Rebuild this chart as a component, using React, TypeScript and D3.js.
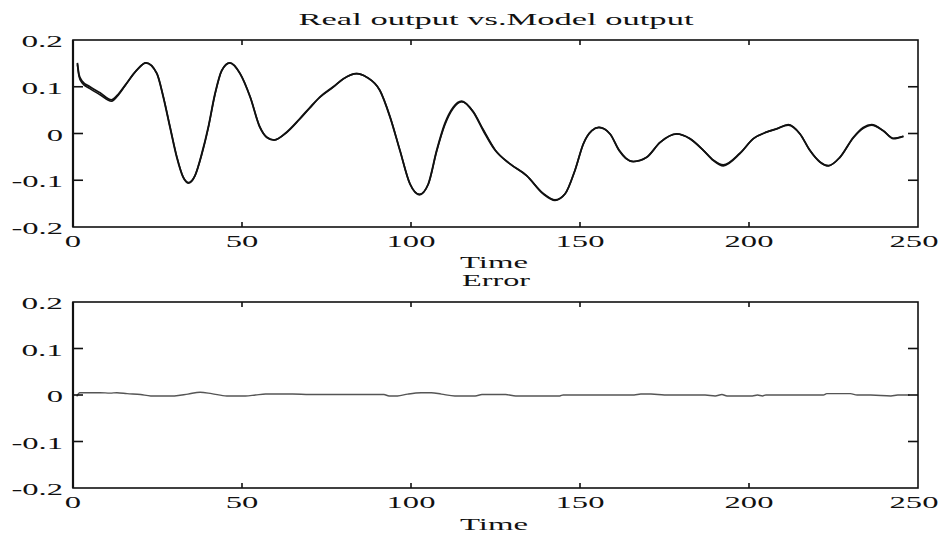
import React from "react";
import * as d3 from "d3";

// ---- data ----
const timeReal = [1.3, 1.8, 2.6, 5, 8, 11.4, 13.5, 15.4, 18.8, 21.6, 24.8, 26.7, 28.7, 30.7, 32.6, 34.1, 36.1, 38.1, 40, 42, 44, 46.4, 49.4, 52.4, 55.3, 57.3, 59.5, 63.2, 67, 70, 73, 77, 80, 83.9, 87, 90.8, 93.8, 96.7, 99.7, 102.5, 105.1, 107.6, 110, 112.5, 115, 118.4, 121.4, 124.9, 129.3, 134.2, 139.1, 142.6, 145.6, 148.5, 151, 153.5, 155.6, 158.9, 161.6, 163.5, 165.8, 169.7, 173.7, 178.6, 182.5, 186.5, 189.5, 192.4, 197.3, 201.3, 205.2, 208.2, 211.6, 215.1, 218, 221, 223.5, 226.9, 230.9, 233.8, 236.3, 239.7, 242.7, 245.7];
const realOutput = [0.151, 0.125, 0.113, 0.1, 0.087, 0.072, 0.085, 0.103, 0.135, 0.151, 0.128, 0.078, 0.013, -0.051, -0.094, -0.106, -0.09, -0.043, 0.013, 0.085, 0.135, 0.151, 0.128, 0.078, 0.013, -0.008, -0.014, 0.003, 0.031, 0.055, 0.078, 0.1, 0.117, 0.128, 0.12, 0.092, 0.035, -0.036, -0.108, -0.131, -0.108, -0.036, 0.021, 0.056, 0.069, 0.046, 0.006, -0.036, -0.065, -0.09, -0.129, -0.143, -0.129, -0.079, -0.022, 0.006, 0.013, -0.001, -0.036, -0.052, -0.06, -0.051, -0.019, -0.001, -0.011, -0.036, -0.058, -0.069, -0.043, -0.011, 0.003, 0.01, 0.019, -0.001, -0.036, -0.061, -0.069, -0.051, -0.008, 0.013, 0.019, 0.006, -0.011, -0.006];
const modelOutput = [0.148, 0.122, 0.109, 0.096, 0.083, 0.069, 0.083, 0.102, 0.135, 0.151, 0.129, 0.08, 0.015, -0.049, -0.093, -0.105, -0.09, -0.045, 0.011, 0.083, 0.134, 0.151, 0.129, 0.079, 0.014, -0.008, -0.014, 0.002, 0.03, 0.054, 0.077, 0.099, 0.117, 0.128, 0.12, 0.092, 0.036, -0.035, -0.108, -0.13, -0.109, -0.038, 0.018, 0.054, 0.068, 0.047, 0.008, -0.035, -0.065, -0.09, -0.128, -0.142, -0.129, -0.079, -0.022, 0.006, 0.013, -0.001, -0.037, -0.053, -0.06, -0.051, -0.019, -0.001, -0.011, -0.036, -0.057, -0.067, -0.042, -0.011, 0.003, 0.01, 0.018, -0.001, -0.036, -0.061, -0.069, -0.051, -0.009, 0.011, 0.018, 0.006, -0.01, -0.006];

const timeError = [1.1, 2, 5, 8, 11, 13, 16, 20, 23, 27, 30, 34, 37.6, 41, 45.5, 51, 54, 57, 65, 70, 82, 92, 93.5, 96, 99, 103, 106, 109, 113, 119, 121, 128, 131, 144, 145, 166, 168, 171, 175, 187, 190, 192, 193.5, 195, 201, 202.5, 204, 205, 222, 223, 230, 232, 236, 242, 244, 247.5];
const errorValues = [-0.003, 0.005, 0.005, 0.005, 0.004, 0.005, 0.003, 0.001, -0.002, -0.002, -0.002, 0.002, 0.006, 0.003, -0.002, -0.002, 0.0, 0.002, 0.002, 0.001, 0.001, 0.001, -0.002, -0.002, 0.002, 0.005, 0.005, 0.002, -0.002, -0.002, 0.001, 0.001, -0.002, -0.002, 0.0, 0.0, 0.002, 0.002, 0.0, 0.0, -0.002, 0.001, -0.002, -0.002, -0.002, 0.0, -0.002, 0.0, 0.0, 0.003, 0.003, 0.0, 0.0, -0.002, 0.0, 0.0];

const xTicks = [0, 50, 100, 150, 200, 250];
const xTickLabels = ["0", "50", "100", "150", "200", "250"];
const yTicks = [-0.2, -0.1, 0, 0.1, 0.2];
const yTickLabels = ["-0.2", "-0.1", "0", "0.1", "0.2"];
const topTitle = "Real output vs.Model output";
const bottomTitle = "Error";
const xLabel = "Time";

// ---- layout ----
const W = 946;
const H = 535;
const X0 = 73;
const X1 = 918;
const FONT = "'Liberation Serif', 'Times New Roman', serif";
const FS = 17.5;

function labelWidth(s: string) {
  let w = 0;
  for (const c of s) {
    if (c === ".") w += 9;
    else if (c === "-") w += 10;
    else w += 16.3;
  }
  return w;
}

function SText({ x, y, text, width, anchor = "middle" }: { x: number; y: number; text: string; width: number; anchor?: string }) {
  return (
    <text
      x={x}
      y={y}
      textAnchor={anchor}
      textLength={width}
      lengthAdjust="spacingAndGlyphs"
      fontFamily={FONT}
      fontSize={FS}
      fill="#111"
    >
      {text}
    </text>
  );
}

type Series = { t: number[]; v: number[]; color: string; width: number; curve: d3.CurveFactory };

function Panel({ top, bottom, series }: { top: number; bottom: number; series: Series[] }) {
  const x = d3.scaleLinear().domain([0, 250]).range([X0, X1]);
  const y = d3.scaleLinear().domain([-0.2, 0.2]).range([bottom, top]);
  return (
    <g>
      {series.map((s, i) => {
        const line = d3
          .line<[number, number]>()
          .x((d) => x(d[0]))
          .y((d) => y(d[1]))
          .curve(s.curve);
        return (
          <path
            key={i}
            d={line(s.t.map((t, j) => [t, s.v[j]] as [number, number])) || ""}
            fill="none"
            stroke={s.color}
            strokeWidth={s.width}
            strokeLinejoin="round"
          />
        );
      })}
      <rect x={X0} y={top} width={X1 - X0} height={bottom - top} fill="none" stroke="#111" strokeWidth={1.6} />
      <line x1={X0} x2={X0} y1={top} y2={bottom} stroke="#111" strokeWidth={2.2} />
      {xTicks.map((t, i) => (
        <g key={"x" + i}>
          {i > 0 && i < xTicks.length - 1 && (
            <>
              <line x1={x(t)} x2={x(t)} y1={bottom} y2={bottom - 5} stroke="#111" strokeWidth={1.6} />
              <line x1={x(t)} x2={x(t)} y1={top} y2={top + 5} stroke="#111" strokeWidth={1.6} />
            </>
          )}
          <SText x={x(t) + (i === xTicks.length - 1 ? -4 : 0)} y={bottom + 20} text={xTickLabels[i]} width={labelWidth(xTickLabels[i])} />
        </g>
      ))}
      {yTicks.map((v, i) => (
        <g key={"y" + i}>
          {i > 0 && i < yTicks.length - 1 && (
            <>
              <line x1={X0} x2={X0 + 10} y1={y(v)} y2={y(v)} stroke="#111" strokeWidth={1.6} />
              <line x1={X1} x2={X1 - 10} y1={y(v)} y2={y(v)} stroke="#111" strokeWidth={1.6} />
            </>
          )}
          <SText x={63} y={y(v) + 7} text={yTickLabels[i]} width={labelWidth(yTickLabels[i])} anchor="end" />
        </g>
      ))}
    </g>
  );
}

export default function App() {
  return (
    <svg width={W} height={H} style={{ position: "absolute", left: 0, top: 0, background: "#fff" }}>
      <rect width={W} height={H} fill="#fff" />
      <SText x={496} y={25} text={topTitle} width={395} />
      <Panel
        top={40}
        bottom={227}
        series={[
          { t: timeReal, v: realOutput, color: "#111", width: 1.8, curve: d3.curveMonotoneX },
          { t: timeReal, v: modelOutput, color: "#111", width: 1.6, curve: d3.curveMonotoneX },
        ]}
      />
      <SText x={494} y={268} text={xLabel} width={68} />
      <SText x={496} y={286} text={bottomTitle} width={68} />
      <Panel top={302} bottom={488} series={[{ t: timeError, v: errorValues, color: "#555", width: 1.4, curve: d3.curveMonotoneX }]} />
      <SText x={494} y={530} text={xLabel} width={68} />
    </svg>
  );
}
